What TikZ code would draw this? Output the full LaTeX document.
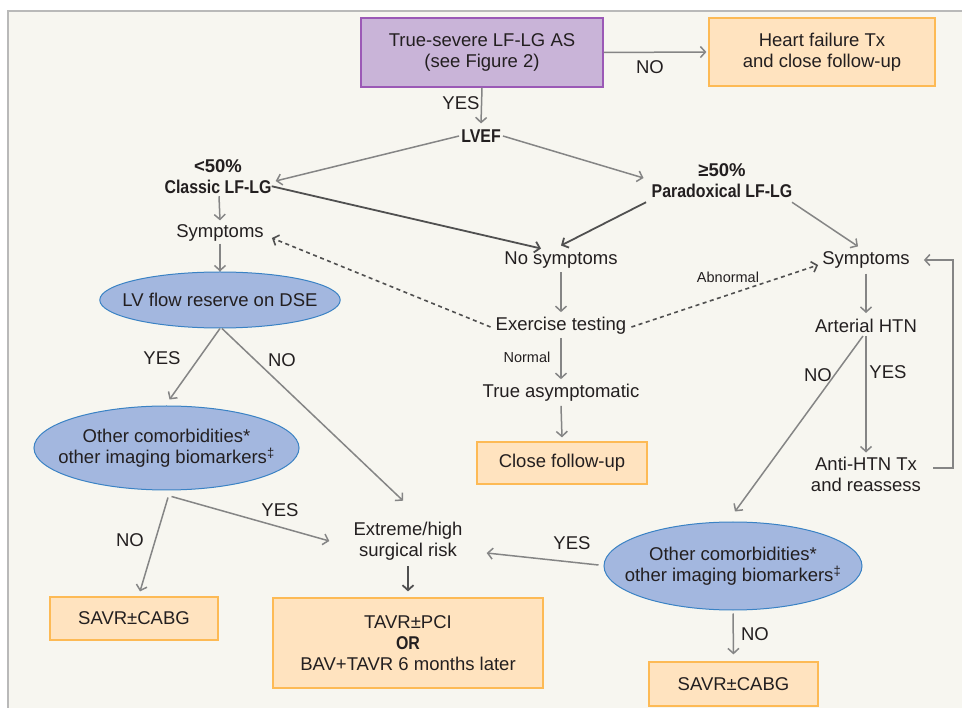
\documentclass[tikz,border=0pt]{standalone}
\usepackage{fontspec}
\setmainfont{Liberation Sans}[BoldFeatures={FakeStretch=0.86}]
\newfontfamily\widebf{Liberation Sans Bold}
\usetikzlibrary{arrows.meta,shapes.geometric}
\definecolor{bg}{HTML}{F7F6F0}
\definecolor{purfill}{HTML}{C9B4D8}
\definecolor{purdraw}{HTML}{9B59B6}
\definecolor{orfill}{HTML}{FFE3BF}
\definecolor{ordraw}{HTML}{FDBA55}
\definecolor{blfill}{HTML}{A3B7DF}
\definecolor{bldraw}{HTML}{3A82C4}
\definecolor{ln}{HTML}{858585}
\definecolor{dk}{HTML}{505050}
\definecolor{tx}{HTML}{231F20}
\begin{document}
\begin{tikzpicture}[x=1pt,y=-1pt,
  font=\fontsize{18.5}{21}\selectfont, text=tx,
  txt/.style={align=center, inner sep=2pt},
  bt/.style={align=center, inner sep=2pt, font=\fontsize{18.5}{21}\selectfont\bfseries},
  lab/.style={inner sep=0pt},
  sml/.style={inner sep=0pt, font=\fontsize{14.5}{16}\selectfont},
  obox/.style={draw=ordraw, fill=orfill, line width=1.2pt, align=center, inner sep=0pt},
  pbox/.style={draw=purdraw, fill=purfill, line width=1.2pt, align=center, inner sep=0pt},
  ell/.style={ellipse, draw=bldraw, fill=blfill, line width=1pt, align=center, inner ysep=0pt},
  arr/.style={draw=ln, line width=1.5pt, -{Straight Barb[length=5pt,width=11pt]}},
  darr/.style={draw=dk, line width=1.8pt, -{Straight Barb[length=5pt,width=11pt]}},
  dsh/.style={draw=dk, line width=1.6pt, dash pattern=on 4pt off 3.5pt, -{Straight Barb[length=5pt,width=11pt]}}
]
\useasboundingbox (0,0) rectangle (962,708);
\fill[white] (0,0) rectangle (962,708);
\draw[fill=bg, draw=gray!55, line width=1.3pt] (8,11) rectangle (980,730);

% boxes
\node[pbox, minimum width=242pt, minimum height=69pt] (top) at (482,52.5) {True-severe LF-LG AS\\(see Figure 2)};
\node[obox, minimum width=226pt, minimum height=68pt] (hf) at (822,52) {Heart failure Tx\\and close follow-up};
\node[obox, minimum width=170pt, minimum height=42pt] (cfu) at (562,463) {Close follow-up};
\node[obox, minimum width=168pt, minimum height=43pt] (sl) at (134,618.5) {SAVR±CABG};
\node[obox, minimum width=270pt, minimum height=90pt] (tavr) at (408,643) {TAVR±PCI\\\textbf{OR}\\BAV+TAVR 6 months later};
\node[obox, minimum width=169pt, minimum height=44pt] (sr) at (733.5,684) {SAVR±CABG};

% ellipses
\node[ell, inner xsep=-12.5pt, minimum width=240pt, minimum height=56pt] (e1) at (220,300) {LV flow reserve on DSE};
\node[ell, inner xsep=-14.5pt, minimum width=263pt, minimum height=84pt] (e2) at (166.5,448) {Other comorbidities*\\other imaging biomarkers\textsuperscript{‡}};
\node[ell, inner xsep=-17pt, minimum width=258pt, minimum height=88pt] (e3) at (733,566) {Other comorbidities*\\other imaging biomarkers\textsuperscript{‡}};

% text nodes
\node[bt] (lvef) at (481,136) {LVEF};
\node[bt] (classic) at (218,177) {{\widebf <50\%}\\Classic LF-LG};
\node[bt] (para) at (722,181) {{\widebf ≥50\%}\\Paradoxical LF-LG};
\node[txt] (symL) at (220,233) {Symptoms};
\node[txt] (nosym) at (561,260) {No symptoms};
\node[txt] (symR) at (866,260) {Symptoms};
\node[txt] (ex) at (561,326) {Exercise testing};
\node[txt] (trueas) at (561,393) {True asymptomatic};
\node[txt] (htn) at (866,326) {Arterial HTN};
\node[txt] (anti) at (866,474) {Anti-HTN Tx\\and reassess};
\node[txt] (ext) at (408,541) {Extreme/high\\surgical risk};

% labels
\node[lab] (l1) at (461,103) {YES};
\node[lab] (l2) at (650,67) {NO};
\node[lab] (l3) at (162,358) {YES};
\node[lab] (l4) at (282,360) {NO};
\node[lab] (l5) at (130,540) {NO};
\node[lab] (l6) at (280,510) {YES};
\node[sml] (l7) at (527,357) {Normal};
\node[sml] (l8) at (728,277) {Abnormal};
\node[lab] (l9) at (572,543) {YES};
\node[lab] (l10) at (818,375) {NO};
\node[lab] (l11) at (888,372) {YES};
\node[lab] (l12) at (755,634) {NO};

% connectors
\draw[arr] (top.east) -- ([xshift=-2pt]hf.west);
\draw[arr] (top.south) -- ([yshift=4pt]lvef.north);
\draw[arr] (lvef.west) -- ([xshift=2pt,yshift=-4pt]classic.east);
\draw[arr] (lvef.east) -- ([xshift=-6pt,yshift=3pt]para.west);
\draw[arr] ([xshift=1pt]classic.south) -- ([yshift=2pt]symL.north);
\draw[darr] ([xshift=-2pt,yshift=10pt]classic.south east) -- ([xshift=-20pt,yshift=1pt]nosym.north);
\draw[darr] ([xshift=-76pt,yshift=-2pt]para.south) -- ([xshift=0pt,yshift=4pt]nosym.north);
\draw[arr] ([xshift=70pt,yshift=-2pt]para.south) -- ([xshift=-8pt,yshift=3pt]symR.north);
\draw[arr] (symL.south) -- (e1.north);
\draw[dsh] ([xshift=-3pt,yshift=-1pt]ex.west) -- ([xshift=6pt,yshift=-5pt]symL.east);
\draw[arr] ([yshift=-2pt]nosym.south) -- ([yshift=3pt]ex.north);
\draw[dsh] ([xshift=3pt,yshift=-1pt]ex.east) -- ([xshift=-2pt,yshift=-5pt]symR.west);
\draw[arr] ([yshift=-1pt]ex.south) -- ([yshift=3pt]trueas.north);
\draw[arr] ([yshift=-2pt]trueas.south) -- ([yshift=4pt]cfu.north);
\draw[arr] ([yshift=-3pt]symR.south) -- ([yshift=4pt]htn.north);
\draw[arr] ([yshift=-1pt]htn.south) -- ([yshift=2pt]anti.north);
\draw[arr] ([xshift=10pt,yshift=6pt]anti.east) -- ++(20,0) |- ([xshift=12pt]symR.east);
\draw[arr] ([xshift=-3pt,yshift=-1pt]htn.south) -- ([xshift=2pt,yshift=10pt]e3.north);
\draw[arr] ([xshift=-5pt,yshift=1pt]e3.west) -- ([xshift=22pt,yshift=-12pt]ext.east);
\draw[arr] ([yshift=-3pt]e3.south) -- ([yshift=7pt]sr.north);
\draw[arr] (e1.south) -- ([xshift=3pt,yshift=6pt]e2.north);
\draw[arr] ([xshift=2pt]e1.south) -- ([xshift=-5pt,yshift=19pt]ext.north);
\draw[arr] ([xshift=1.5pt,yshift=-7pt]e2.south) -- ([xshift=6pt,yshift=5pt]sl.north);
\draw[arr] ([xshift=5pt,yshift=-6pt]e2.south) -- ([xshift=-22pt]ext.west);
\draw[darr] ([yshift=-4pt]ext.south) -- ([yshift=6pt]tavr.north);
\end{tikzpicture}
\end{document}
